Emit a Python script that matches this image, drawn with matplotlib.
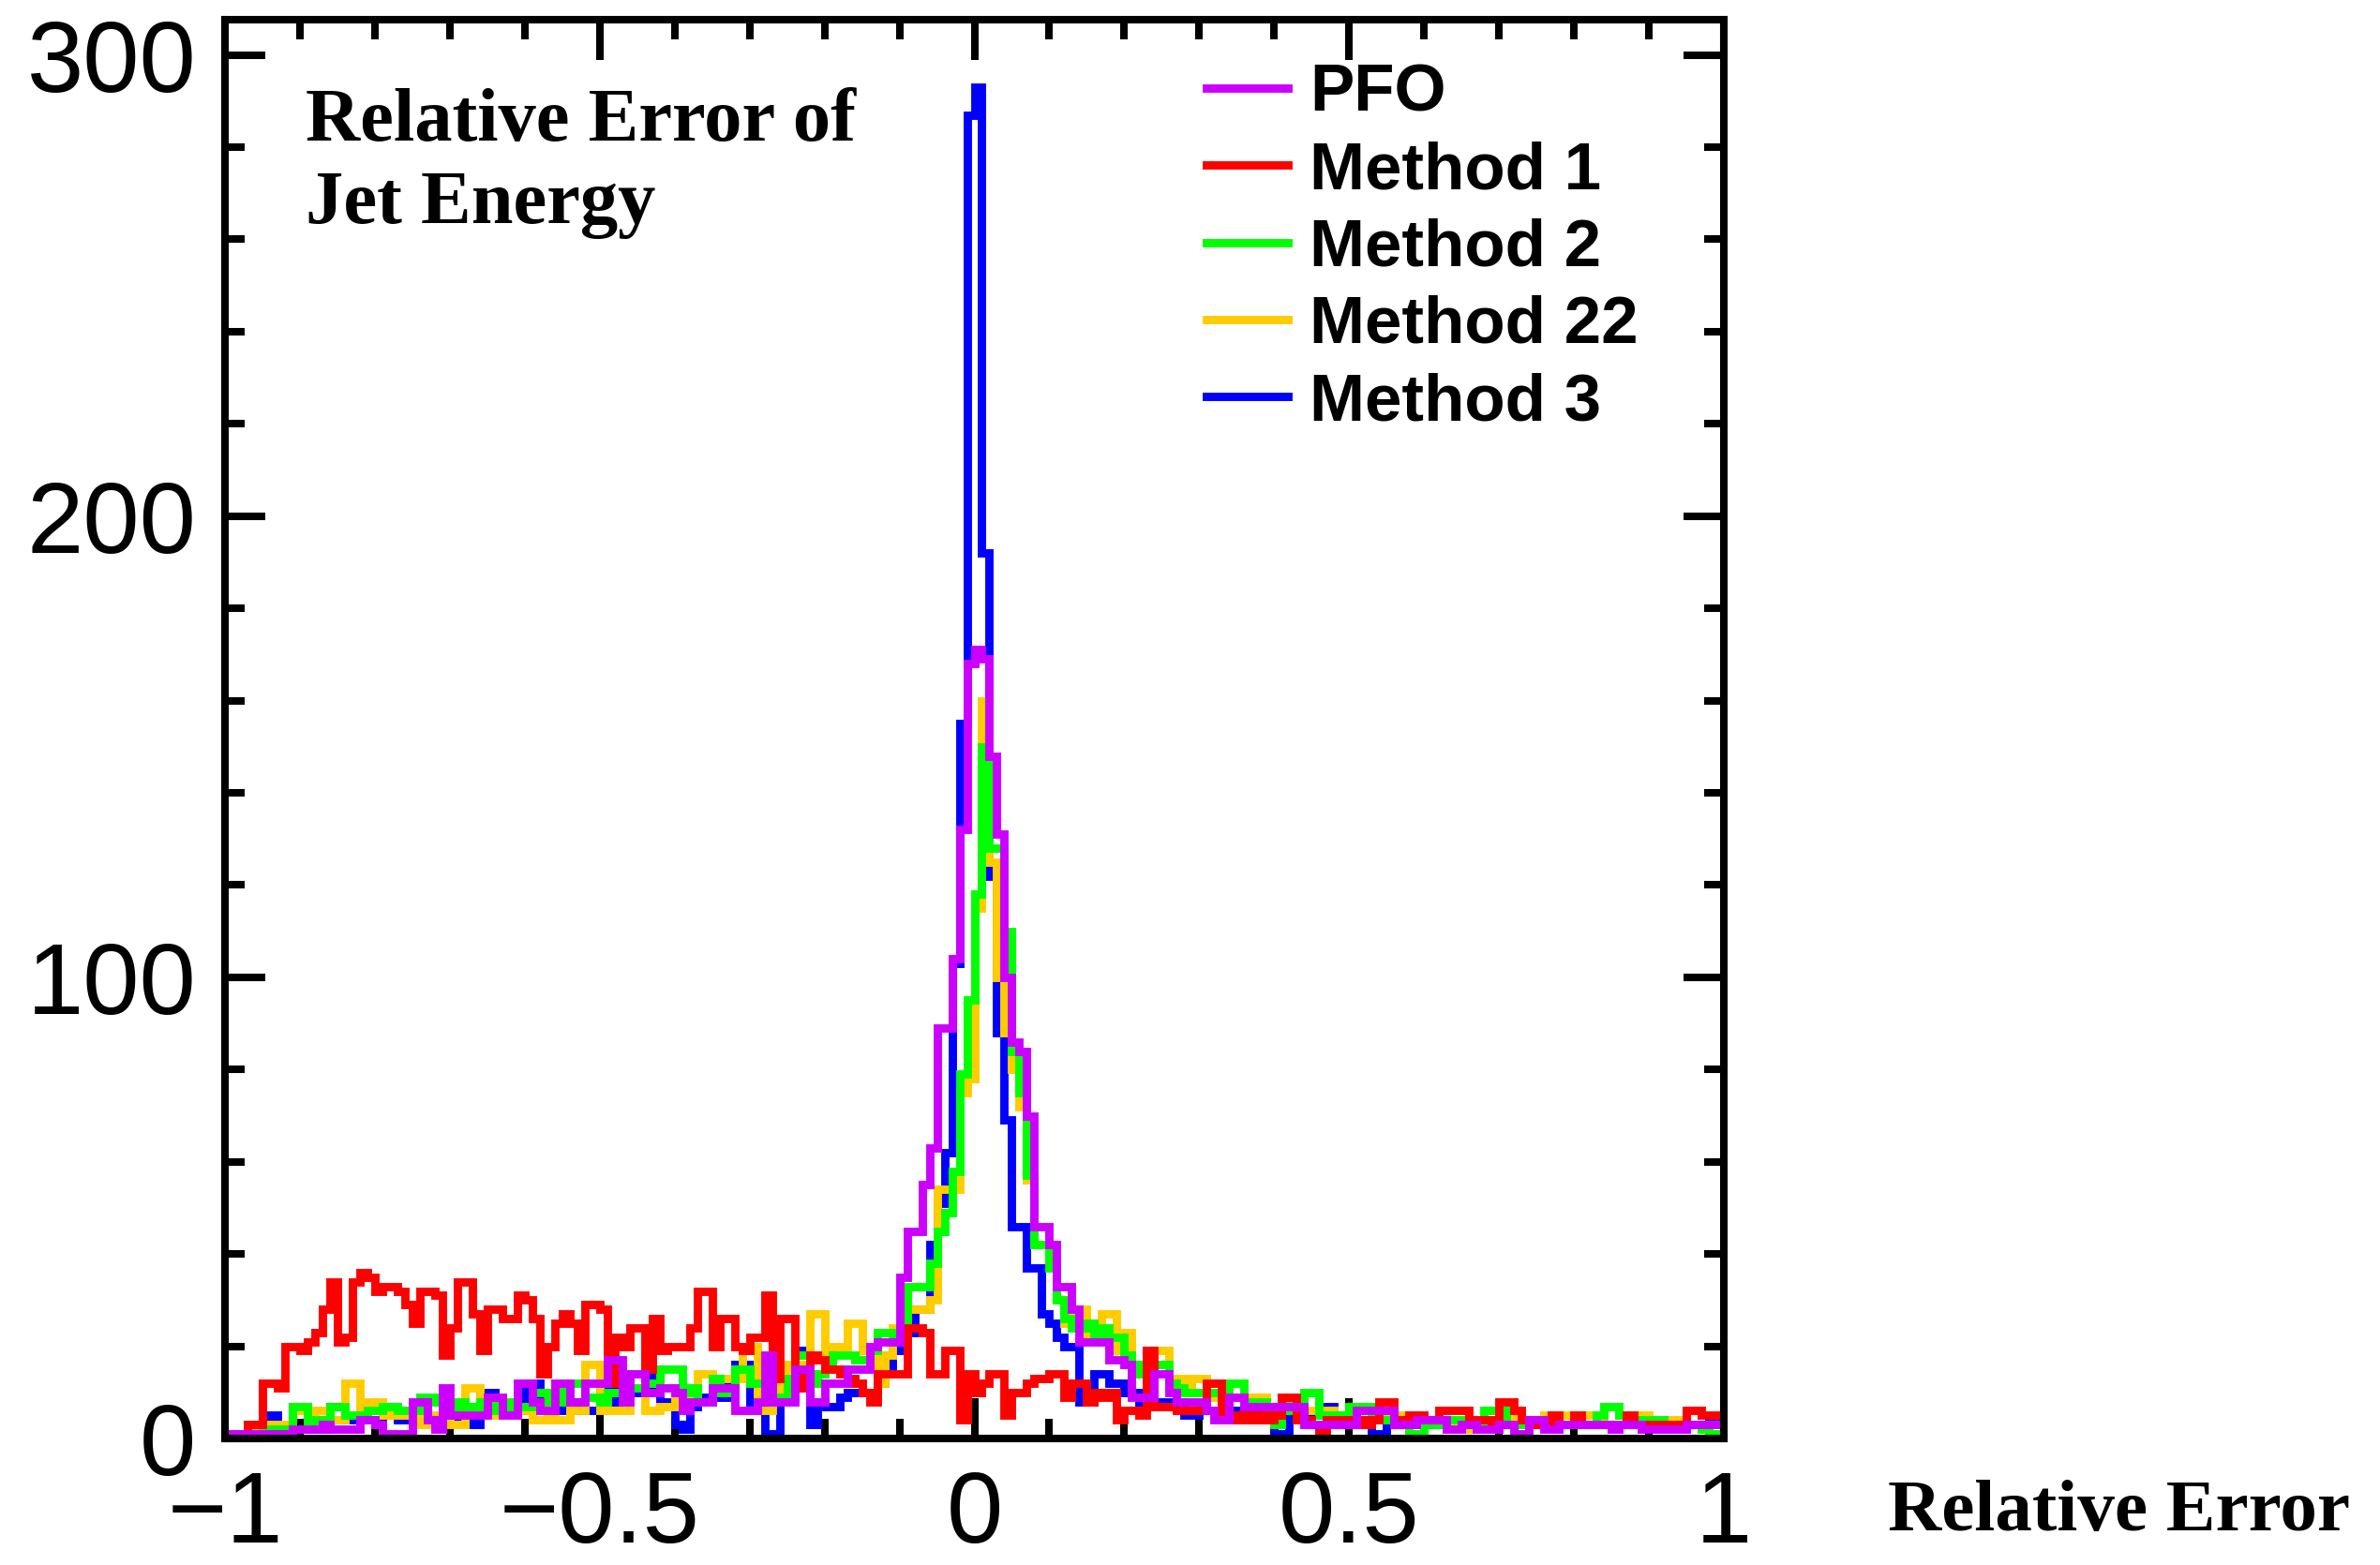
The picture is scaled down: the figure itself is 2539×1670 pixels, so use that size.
import numpy as np
import matplotlib
matplotlib.use("Agg")
import matplotlib.pyplot as plt
from matplotlib.ticker import MultipleLocator, FixedLocator, FixedFormatter
from matplotlib.lines import Line2D

# ---------------- data ----------------
bin_edges = np.linspace(-1.0, 1.0, 201)

pfo = [1, 1, 1, 1, 1, 1, 1, 1, 1, 2,
       2, 2, 2, 3, 2, 2, 2, 2, 4, 4,
       3, 1, 1, 1, 1, 8, 8, 4, 2, 11,
       5, 5, 5, 5, 5, 9, 9, 5, 5, 12,
       12, 8, 6, 6, 12, 12, 8, 8, 12, 12,
       12, 17, 17, 8, 14, 14, 10, 10, 11, 11,
       10, 6, 8, 8, 8, 11, 11, 11, 6, 6,
       6, 8, 18, 8, 8, 8, 15, 15, 8, 8,
       12, 12, 12, 15, 15, 15, 20, 21, 21, 21,
       35, 45, 45, 55, 63, 89, 89, 104, 132, 168,
       171, 169, 148, 131, 100, 86, 84, 70, 46, 46,
       42, 33, 33, 28, 21, 21, 21, 21, 17, 17,
       16, 9, 9, 9, 14, 14, 10, 8, 8, 8,
       8, 6, 4, 4, 9, 9, 7, 7, 7, 7,
       7, 7, 7, 7, 3, 3, 3, 3, 3, 3,
       3, 6, 6, 6, 6, 6, 3, 3, 3, 4,
       4, 4, 4, 2, 2, 3, 3, 2, 2, 2,
       3, 3, 1, 1, 4, 4, 2, 2, 3, 3,
       3, 3, 3, 3, 3, 2, 3, 3, 3, 2,
       2, 2, 2, 2, 2, 3, 3, 3, 3, 3]

method1 = [0, 0, 0, 3, 3, 12, 12, 11, 20, 20,
           19, 21, 23, 28, 34, 21, 22, 34, 36, 35,
           32, 33, 33, 32, 29, 25, 32, 32, 31, 18,
           24, 34, 34, 27, 19, 28, 28, 26, 26, 31,
           30, 26, 14, 20, 25, 27, 25, 19, 29, 29,
           28, 12, 22, 20, 24, 24, 15, 26, 19, 20,
           20, 20, 24, 32, 32, 20, 26, 26, 20, 19,
           22, 22, 31, 13, 26, 26, 11, 14, 18, 17,
           15, 15, 14, 13, 12, 10, 8, 14, 14, 14,
           14, 24, 24, 23, 14, 14, 19, 19, 4, 14,
           10, 12, 14, 14, 5, 10, 10, 12, 13, 13,
           14, 14, 9, 12, 12, 8, 10, 9, 10, 4,
           6, 6, 5, 19, 7, 7, 7, 6, 6, 6,
           6, 12, 12, 5, 5, 4, 5, 4, 5, 4,
           5, 9, 9, 4, 4, 3, 1, 4, 4, 3,
           4, 4, 3, 4, 8, 8, 3, 4, 5, 5,
           4, 4, 6, 6, 6, 6, 4, 4, 4, 3,
           8, 8, 6, 4, 3, 3, 3, 5, 3, 3,
           5, 3, 3, 3, 3, 3, 3, 5, 3, 3,
           3, 3, 3, 3, 3, 6, 6, 5, 5, 5]

method2 = [1, 1, 1, 3, 3, 2, 2, 2, 2, 7,
           7, 3, 4, 4, 7, 7, 5, 5, 5, 6,
           6, 7, 7, 6, 6, 6, 9, 9, 8, 5,
           5, 8, 7, 7, 8, 8, 6, 6, 8, 7,
           7, 10, 10, 8, 8, 12, 12, 12, 9, 9,
           8, 10, 10, 13, 11, 11, 12, 12, 15, 15,
           15, 10, 11, 8, 8, 13, 10, 10, 15, 15,
           12, 12, 12, 9, 9, 13, 18, 18, 12, 14,
           16, 18, 18, 18, 17, 17, 19, 23, 23, 22,
           24, 33, 33, 33, 38, 45, 49, 58, 79, 95,
           118, 150, 128, 128, 110, 84, 75, 57, 42, 42,
           37, 30, 26, 24, 24, 25, 22, 24, 22, 22,
           18, 14, 16, 14, 16, 16, 12, 11, 10, 10,
           10, 10, 10, 10, 12, 12, 8, 8, 8, 5,
           3, 8, 6, 6, 10, 10, 5, 5, 5, 5,
           7, 7, 7, 4, 4, 4, 4, 4, 1, 1,
           3, 3, 4, 4, 4, 4, 3, 3, 6, 6,
           6, 3, 3, 4, 4, 4, 3, 3, 3, 3,
           3, 3, 3, 5, 7, 7, 5, 3, 3, 4,
           4, 4, 3, 3, 3, 3, 3, 2, 1, 1]

method22 = [1, 1, 1, 2, 2, 3, 3, 3, 3, 6,
            6, 3, 6, 6, 4, 4, 12, 12, 5, 8,
            8, 5, 5, 5, 5, 5, 3, 3, 5, 4,
            3, 3, 11, 11, 6, 5, 5, 7, 7, 6,
            6, 4, 4, 10, 4, 4, 6, 6, 16, 16,
            6, 6, 6, 6, 14, 14, 6, 6, 7, 7,
            11, 11, 8, 14, 14, 13, 13, 13, 13, 20,
            20, 6, 6, 12, 10, 16, 16, 16, 27, 27,
            16, 20, 20, 25, 25, 19, 19, 12, 18, 24,
            22, 28, 28, 28, 30, 54, 54, 54, 75, 78,
            115, 160, 125, 100, 88, 80, 72, 56, 42, 42,
            39, 30, 25, 27, 28, 22, 22, 27, 27, 19,
            23, 15, 15, 17, 19, 19, 13, 13, 11, 13,
            13, 9, 9, 6, 9, 9, 9, 9, 9, 6,
            6, 7, 7, 7, 6, 6, 6, 6, 5, 5,
            5, 4, 4, 5, 5, 4, 4, 5, 4, 5,
            4, 4, 3, 3, 3, 3, 2, 2, 2, 2,
            5, 5, 3, 3, 3, 4, 5, 5, 5, 5,
            5, 5, 5, 5, 3, 3, 3, 5, 5, 5,
            4, 4, 4, 4, 3, 3, 3, 2, 3, 3]

method3 = [1, 1, 1, 1, 1, 2, 5, 2, 2, 2,
           2, 2, 2, 2, 7, 7, 4, 4, 4, 4,
           3, 5, 5, 4, 4, 4, 4, 4, 4, 4,
           4, 4, 4, 3, 10, 10, 6, 6, 6, 6,
           12, 12, 9, 6, 6, 8, 8, 6, 6, 6,
           11, 11, 8, 8, 10, 10, 10, 15, 8, 8,
           3, 2, 7, 9, 9, 9, 9, 12, 16, 16,
           8, 8, 1, 1, 9, 9, 19, 19, 3, 8,
           7, 7, 9, 10, 10, 10, 10, 12, 15, 19,
           22, 23, 28, 28, 42, 51, 62, 103, 155, 287,
           293, 192, 122, 88, 69, 46, 46, 37, 37, 27,
           25, 22, 20, 20, 8, 8, 14, 14, 12, 12,
           10, 10, 8, 8, 8, 8, 8, 8, 5, 5,
           6, 6, 6, 6, 6, 6, 6, 6, 6, 6,
           1, 1, 5, 5, 5, 5, 7, 7, 4, 4,
           4, 4, 4, 1, 1, 3, 3, 3, 3, 3,
           3, 3, 3, 3, 3, 3, 3, 3, 3, 3,
           3, 3, 3, 3, 3, 3, 3, 3, 3, 3,
           3, 3, 3, 3, 3, 3, 3, 3, 3, 3,
           3, 3, 3, 3, 3, 3, 3, 3, 4, 4]

series_labels = ["PFO", "Method 1", "Method 2", "Method 22", "Method 3"]
series_colors = ["#CC00FF", "#FF0000", "#00FF00", "#FFCC00", "#0000FF"]
series_values = [pfo, method1, method2, method22, method3]

x_tick_values = [-1, -0.5, 0, 0.5, 1]
x_tick_labels = ["\u22121", "\u22120.5", "0", "0.5", "1"]
y_tick_values = [0, 100, 200, 300]
y_tick_labels = ["0", "100", "200", "300"]

title_lines = ["Relative Error of", "Jet Energy"]
x_axis_title = "Relative Error"

# ---------------- figure ----------------
W, H = 2539, 1670
fig = plt.figure(figsize=(W / 100, H / 100), dpi=100)
ax_left, ax_right, ax_top, ax_bottom = 240, 1839, 21, 1535
ax = fig.add_axes([ax_left / W, 1 - ax_bottom / H,
                   (ax_right - ax_left) / W, (ax_bottom - ax_top) / H])

lw = 6.4
draw_order = [4, 3, 2, 1, 0]  # Method 3, 22, 2, 1, then PFO on top
for z, i in enumerate(draw_order):
    st = ax.stairs(series_values[i], bin_edges, color=series_colors[i],
                   linewidth=lw, baseline=None, zorder=2 + z)
    st.set_joinstyle("miter")
    st.set_capstyle("projecting")

ymax = 1.05 * max(max(v) for v in series_values)
ax.set_xlim(-1, 1)
ax.set_ylim(0, ymax)

for s in ax.spines.values():
    s.set_linewidth(5.8)
    s.set_zorder(10)

ax.xaxis.set_major_locator(FixedLocator(x_tick_values))
ax.xaxis.set_major_formatter(FixedFormatter(x_tick_labels))
ax.xaxis.set_minor_locator(MultipleLocator(0.1))
ax.yaxis.set_major_locator(FixedLocator(y_tick_values))
ax.yaxis.set_major_formatter(FixedFormatter(y_tick_labels))
ax.yaxis.set_minor_locator(MultipleLocator(20))

ax.tick_params(which="both", direction="in", top=True, right=True, width=5.8, zorder=10)
ax.tick_params(which="major", length=31)
ax.tick_params(which="minor", length=15)
ax.tick_params(axis="x", which="major", pad=24)
ax.tick_params(axis="y", which="major", pad=22)
for lab in ax.get_xticklabels() + ax.get_yticklabels():
    lab.set_fontfamily("Liberation Sans")
    lab.set_fontsize(78)

# title text
ax.text(0.054, 0.915, title_lines[0], transform=ax.transAxes,
        fontfamily="Liberation Serif", fontweight="bold", fontsize=58, va="baseline", ha="left")
ax.text(0.054, 0.857, title_lines[1], transform=ax.transAxes,
        fontfamily="Liberation Serif", fontweight="bold", fontsize=58, va="baseline", ha="left")

# x-axis title at bottom right
fig.text(2507 / W, 1 - 1633 / H, x_axis_title, fontfamily="Liberation Serif",
         fontweight="bold", fontsize=57, ha="right", va="baseline")

# legend
handles = [Line2D([], [], color=c, linewidth=lw) for c in series_colors]
leg = ax.legend(handles, series_labels, loc="upper left", bbox_to_anchor=(0.655, 0.969),
                frameon=False, borderpad=0, borderaxespad=0, handlelength=1.22,
                handletextpad=0.33, labelspacing=0.23,
                prop={"family": "Liberation Sans", "weight": "bold", "size": 51})

fig.savefig("out.png", dpi=100)
